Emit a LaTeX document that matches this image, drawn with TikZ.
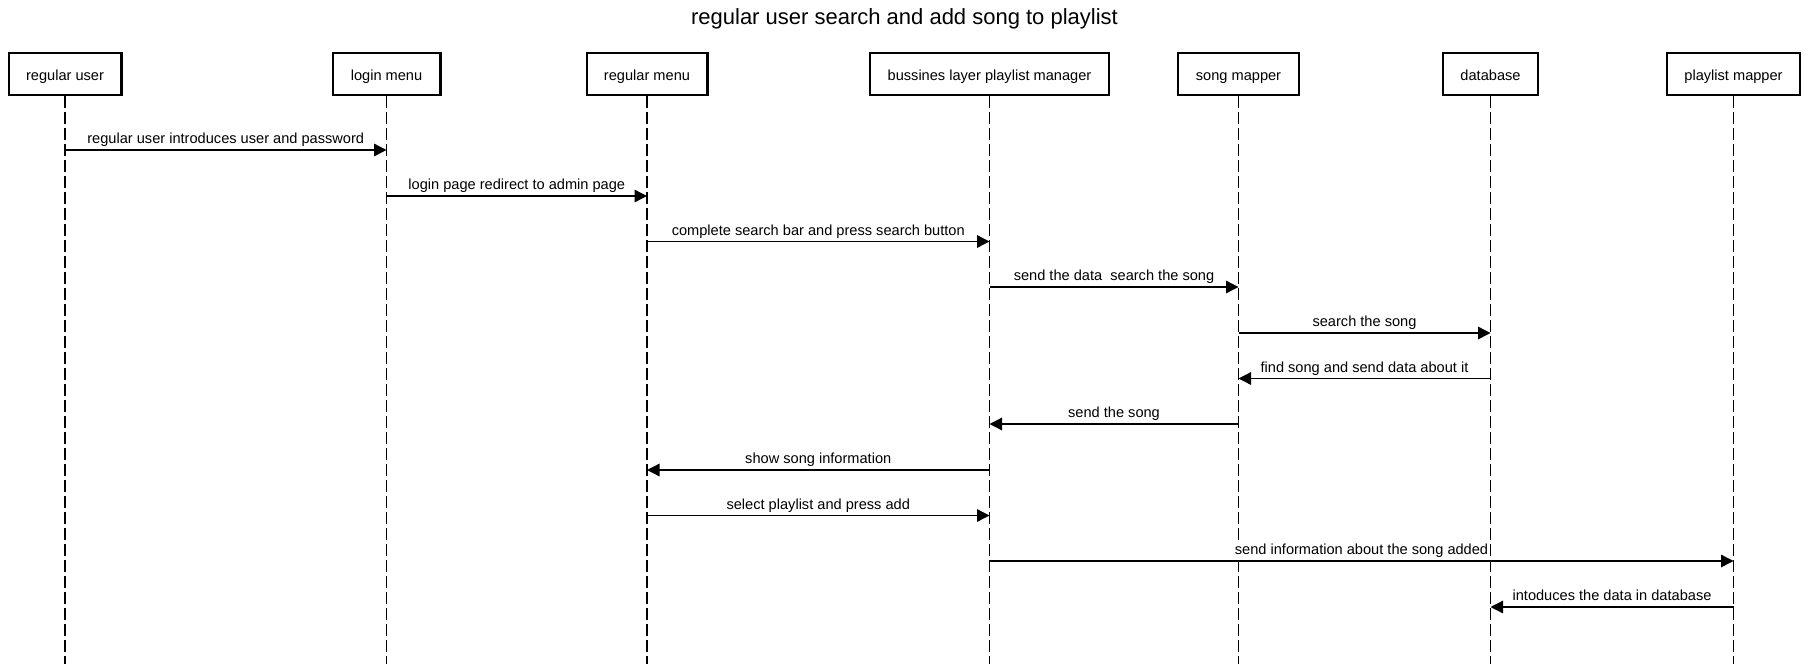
\documentclass[tikz,border=0pt]{standalone}
\usepackage{fontspec}
\setmainfont{Liberation Sans}
\usetikzlibrary{arrows.meta}
\begin{document}
\begin{tikzpicture}[x=1pt,y=-1pt,
  actor/.style={draw, line width=2.4pt, minimum height=41.6pt, inner sep=0pt, text height=14pt, text depth=2pt, font=\fontsize{14.6}{17}\selectfont},
  life/.style={line width=1.33pt, dash pattern=on 11.5pt off 4.5pt},
  msg/.style={line width=1.33pt, -{Triangle[length=12.5pt,width=12.5pt]}},
  lbl/.style={fill=white, inner sep=1pt, midway, anchor=base, yshift=6.5pt, font=\fontsize{14.6}{17}\selectfont}]
\useasboundingbox (0,0) rectangle (1809,664);
\node[font=\fontsize{22}{26}\selectfont, anchor=base, inner sep=0pt] (title) at (904.5,24.5) {regular user search and add song to playlist};
% actors
\node[actor, minimum width=112.6pt] (ru) at (65,74) {regular user};
\node[actor, minimum width=107.6pt] (lm) at (386.5,74) {login menu};
\node[actor, minimum width=120.6pt] (rm) at (647,74) {regular menu};
\node[actor, minimum width=238.6pt] (bm) at (989.5,74) {bussines layer playlist manager};
\node[actor, minimum width=120.6pt] (sm) at (1238.5,74) {song mapper};
\node[actor, minimum width=94.6pt] (db) at (1490.5,74) {database};
\node[actor, minimum width=132.6pt] (pm) at (1733.5,74) {playlist mapper};
% lifeline ends
\coordinate (ruE) at (65,664);
\coordinate (lmE) at (386.5,664);
\coordinate (rmE) at (647,664);
\coordinate (bmE) at (989.5,664);
\coordinate (smE) at (1238.5,664);
\coordinate (dbE) at (1490.5,664);
\coordinate (pmE) at (1733.5,664);
\foreach \a in {ru,lm,rm,bm,sm,db,pm} {\draw[life] (\a.south) -- (\a E);}
% message levels
\coordinate (y1) at (0,150);
\coordinate (y2) at (0,196);
\coordinate (y3) at (0,241.5);
\coordinate (y4) at (0,287);
\coordinate (y5) at (0,333);
\coordinate (y6) at (0,378.5);
\coordinate (y7) at (0,424);
\coordinate (y8) at (0,470);
\coordinate (y9) at (0,515.5);
\coordinate (y10) at (0,561);
\coordinate (y11) at (0,607);
% messages
\draw[msg] (ru |- y1) -- node[lbl] {regular user introduces user and password} (lm |- y1);
\draw[msg] (lm |- y2) -- node[lbl] {login page redirect to admin page} (rm |- y2);
\draw[msg] (rm |- y3) -- node[lbl] {complete search bar and press search button} (bm |- y3);
\draw[msg] (bm |- y4) -- node[lbl] {send the data\ \ search the song} (sm |- y4);
\draw[msg] (sm |- y5) -- node[lbl] {search the song} (db |- y5);
\draw[msg] (db |- y6) -- node[lbl] {find song and send data about it} (sm |- y6);
\draw[msg] (sm |- y7) -- node[lbl] {send the song} (bm |- y7);
\draw[msg] (bm |- y8) -- node[lbl] {show song information} (rm |- y8);
\draw[msg] (rm |- y9) -- node[lbl] {select playlist and press add} (bm |- y9);
\draw[msg] (bm |- y10) -- node[lbl] {send information about the song added} (pm |- y10);
\draw[msg] (pm |- y11) -- node[lbl] {intoduces the data in database} (db |- y11);
\end{tikzpicture}
\end{document}
